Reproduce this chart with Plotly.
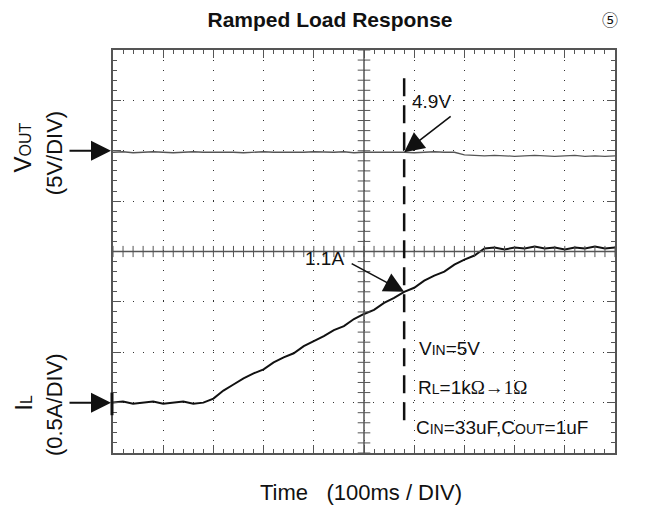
import plotly.graph_objects as go

# scope capture, time in ms (100ms/div), 20ms samples
time_ms = [0, 20, 40, 60, 80, 100, 120, 140, 160, 180,
           200, 220, 240, 260, 280, 300, 320, 340, 360, 380,
           400, 420, 440, 460, 480, 500, 520, 540, 560, 580,
           600, 620, 640, 660, 680, 700, 720, 740, 760, 780,
           800, 820, 840, 860, 880, 900, 920, 940, 960, 980, 1000]

# load current in A (0.5A/div, reference marker = 0A)
il_amps = [0.00, 0.01, -0.01, 0.00, 0.01, -0.01, 0.00, 0.01, -0.01, 0.00,
           0.04, 0.12, 0.18, 0.24, 0.29, 0.33, 0.40, 0.45, 0.49, 0.56,
           0.61, 0.66, 0.72, 0.76, 0.83, 0.88, 0.92, 0.99, 1.04, 1.10,
           1.14, 1.21, 1.26, 1.30, 1.37, 1.42, 1.46, 1.53, 1.54, 1.52,
           1.54, 1.53, 1.55, 1.53, 1.54, 1.52, 1.54, 1.53, 1.55, 1.53, 1.54]

# output voltage, offset in divisions from its marker
vout_div = [-0.03, -0.02, -0.04, -0.03, -0.02, -0.03, -0.04, -0.03, -0.02, -0.03,
            -0.03, -0.02, -0.03, -0.04, -0.03, -0.02, -0.03, -0.03, -0.04, -0.03,
            -0.02, -0.03, -0.03, -0.02, -0.04, -0.03, -0.03, -0.02, -0.03, -0.03,
            -0.04, -0.03, -0.02, -0.03, -0.03, -0.08, -0.09, -0.10, -0.09, -0.10,
            -0.11, -0.10, -0.09, -0.10, -0.11, -0.10, -0.09, -0.11, -0.10, -0.11, -0.10]

VOUT_REF = 6      # division where the VOUT marker sits
IL_REF = 1        # division where the IL marker sits
IL_PER_DIV = 0.5
marker_t = 580    # dashed cursor

il_y = [IL_REF + a / IL_PER_DIV for a in il_amps]
vout_y = [VOUT_REF + v for v in vout_div]

FONT = "Liberation Sans, Arial, sans-serif"
SERIF = "Liberation Serif, Times New Roman, serif"
GRID = "#333333"
INK = "#111111"

fig = go.Figure()
fig.add_trace(go.Scatter(x=time_ms, y=vout_y, mode="lines",
                         line=dict(color="#555555", width=1.3), showlegend=False))
fig.add_trace(go.Scatter(x=time_ms, y=il_y, mode="lines",
                         line=dict(color=INK, width=2), showlegend=False))

# cross ticks on the centre lines
fig.add_trace(go.Scatter(x=[i * 20 for i in range(51)], y=[4] * 51, mode="markers",
                         marker=dict(symbol="line-ns", size=8, line=dict(color="#555555", width=1)),
                         showlegend=False, hoverinfo="skip"))
fig.add_trace(go.Scatter(x=[500] * 41, y=[i * 0.2 for i in range(41)], mode="markers",
                         marker=dict(symbol="line-ew", size=9, line=dict(color="#555555", width=1)),
                         showlegend=False, hoverinfo="skip"))

fig.add_shape(type="line", x0=500, x1=500, y0=0, y1=8, line=dict(color="#555555", width=1.5))
fig.add_shape(type="line", x0=0, x1=1000, y0=4, y1=4, line=dict(color="#555555", width=1.5))
fig.add_shape(type="line", x0=marker_t, x1=marker_t, y0=0.65, y1=7.46,
              line=dict(color=INK, width=2.5, dash="18px,9px"))
fig.add_shape(type="line", xref="paper", x0=-0.002, x1=-0.002, y0=0.75, y1=1.2,
              line=dict(color=INK, width=3))

axis_style = dict(showticklabels=False, showgrid=True, gridcolor=GRID, griddash="1px,9px",
                  gridwidth=1, showline=True, linecolor="#555555", linewidth=1.5,
                  mirror="ticks", ticks="inside", ticklen=8, tickcolor="#555555",
                  zeroline=False)
fig.update_xaxes(range=[0, 1000], dtick=100,
                 minor=dict(dtick=20, ticks="inside", ticklen=4, tickcolor="#555555", showgrid=False),
                 **axis_style)
fig.update_yaxes(range=[0, 8], dtick=1,
                 minor=dict(dtick=0.2, ticks="inside", ticklen=4, tickcolor="#555555", showgrid=False),
                 **axis_style)

def label(x, y, text, size=22, family=FONT, **kw):
    fig.add_annotation(x=x, y=y, xref="paper", yref="paper", text=text, showarrow=False,
                       xanchor="center", yanchor="middle",
                       font=dict(family=family, size=size, color=INK), **kw)

def small(s, px):
    return '<span style="font-size:%dpx">%s</span>' % (px, s)

label(-0.180, 0.757, "V" + small("OUT", 16), size=24, textangle=-90)
label(-0.1175, 0.744, "(5V/DIV)", textangle=-90)
label(-0.180, 0.124, "I" + small("L", 16), size=24, textangle=-90)
label(-0.1175, 0.119, "(0.5A/DIV)", textangle=-90)
label(0.494, -0.099, "Time\u00a0\u00a0\u00a0(100ms / DIV)", size=22)
label(0.990, 1.077, "⑤", size=16, family="Noto Sans CJK JP, DejaVu Sans")

# channel markers
for lvl in (VOUT_REF, IL_REF):
    fig.add_annotation(x=0, y=lvl, ax=-45, ay=0, text="", showarrow=True,
                       arrowhead=2, arrowsize=2, arrowwidth=2, arrowcolor=INK, standoff=2)

# cursor readouts
fig.add_annotation(x=marker_t, y=vout_y[29], ax=48, ay=-37, text="", showarrow=True,
                   arrowhead=2, arrowsize=2.5, arrowwidth=1.6, arrowcolor=INK)
fig.add_annotation(x=635, y=6.97, text="4.9V", showarrow=False,
                   font=dict(family=FONT, size=19, color=INK))
fig.add_annotation(x=marker_t, y=il_y[29], ax=-54, ay=-29, text="", showarrow=True,
                   arrowhead=2, arrowsize=2.5, arrowwidth=1.6, arrowcolor=INK)
fig.add_annotation(x=422, y=3.87, text="1.1A", showarrow=False,
                   font=dict(family=FONT, size=19, color=INK))

serif = '<span style="font-family:%s">%%s</span>' % SERIF
cond = dict(showarrow=False, xanchor="left", font=dict(family=FONT, size=19, color=INK))
fig.add_annotation(x=605, y=2.08, text="V" + small("IN", 14) + "=5V", **cond)
fig.add_annotation(x=603, y=1.31, text="R" + small("L", 14) + "=1k" + serif % "Ω→1Ω", **cond)
fig.add_annotation(x=600, y=0.50,
                   text="C" + small("IN", 14) + "=33uF,C" + small("OUT", 14) + "=1uF", **cond)

# page body has an 8px margin: shift margins so the plot box lands where it should
fig.update_layout(
    width=650, height=512,
    margin=dict(l=105, r=43, t=42, b=67),
    paper_bgcolor="white", plot_bgcolor="white",
    font=dict(family=FONT, color=INK),
    title=dict(text="<b>Ramped Load Response</b>", x=(330 - 8) / 650, xanchor="center",
               y=1 - (20 - 8) / 512, yanchor="middle", font=dict(family=FONT, size=21, color=INK)),
    showlegend=False,
)

fig.write_html("out.html")
